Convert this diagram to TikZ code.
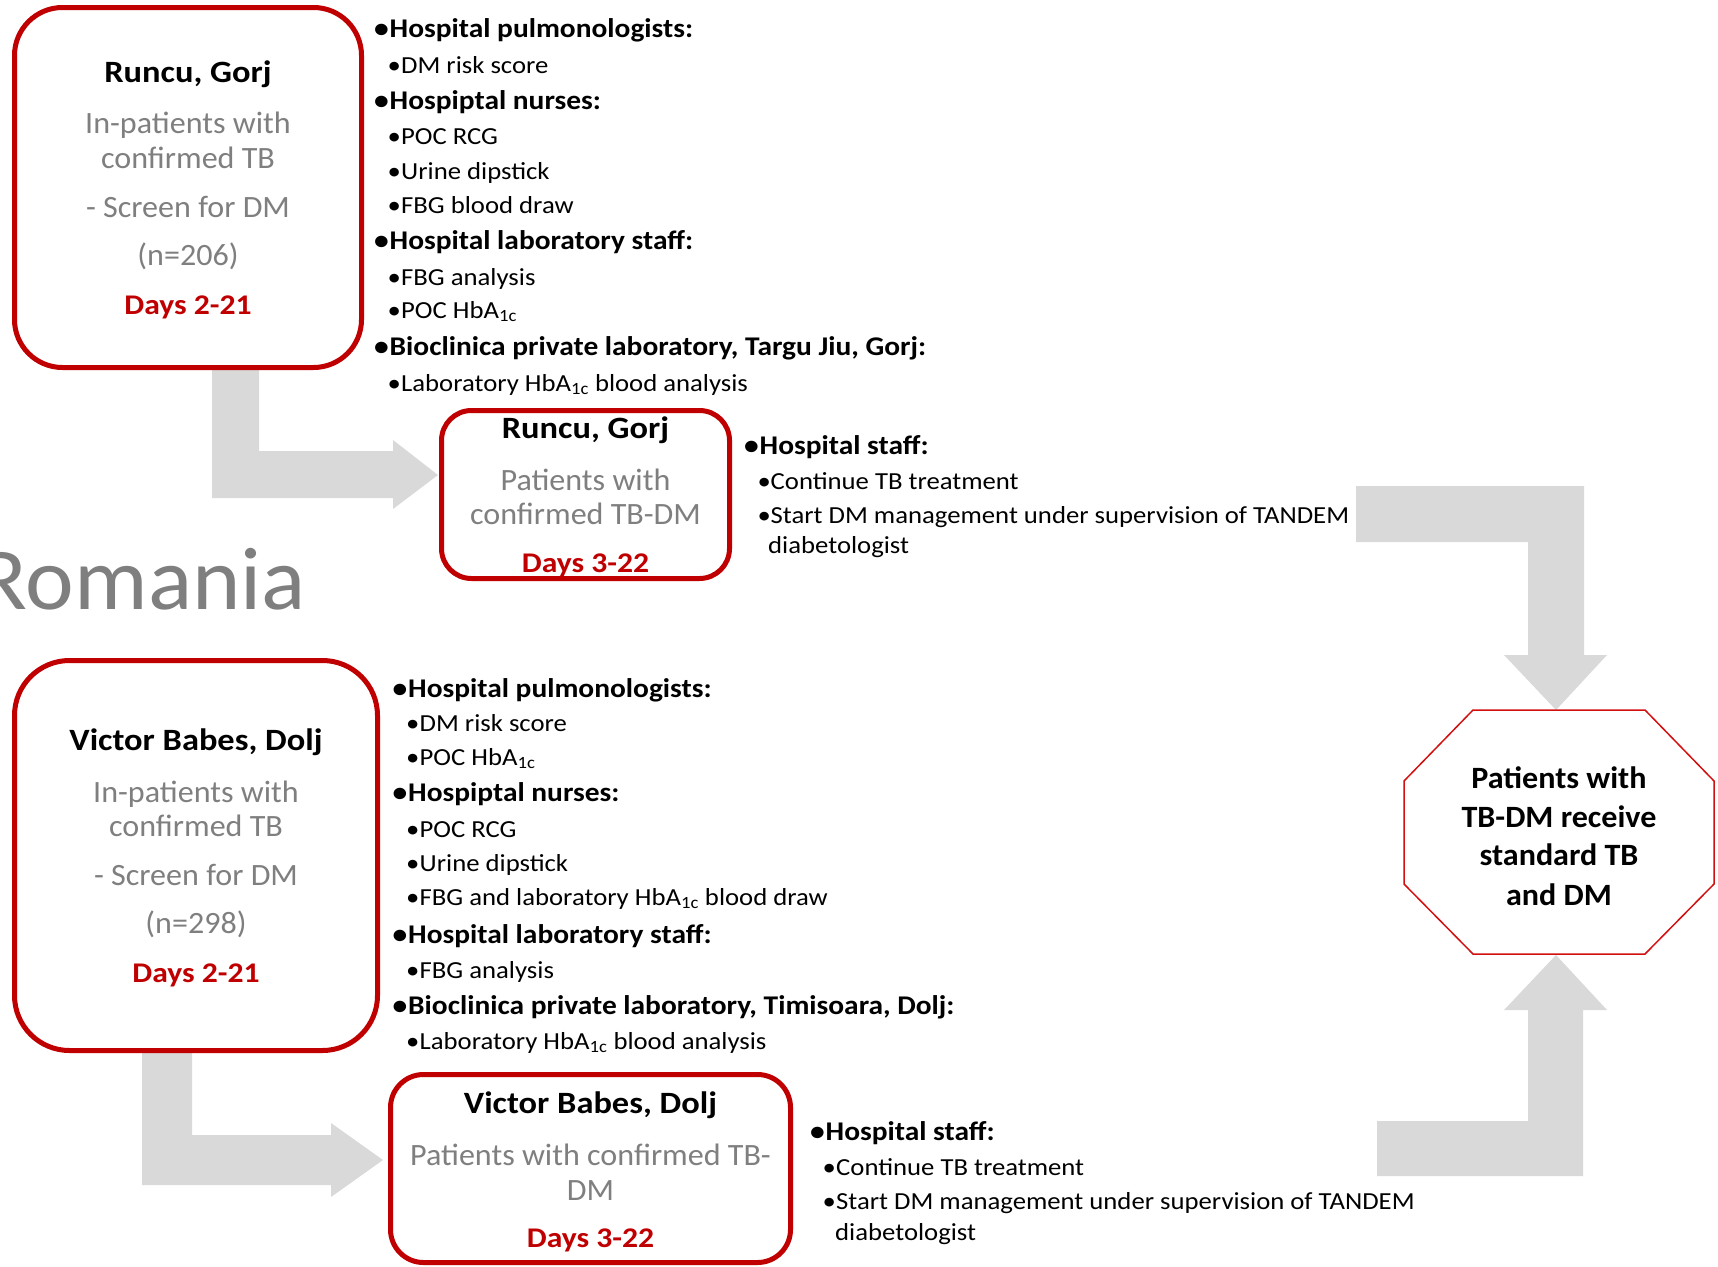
\documentclass[tikz,border=0pt]{standalone}
\usepackage{fontspec}
\setmainfont{Carlito}
\newfontfamily\listfont{Carlito}[FakeStretch=1.09]
\newfontfamily\titlefont{Carlito}[FakeStretch=1.11]
\newfontfamily\greyfont{Carlito}[FakeStretch=1.035]
\definecolor{tandemred}{RGB}{192,0,0}
\definecolor{octred}{RGB}{210,16,16}
\definecolor{txtgray}{RGB}{127,127,127}
\definecolor{arrowgray}{RGB}{217,217,217}
\newcommand{\fs}[1]{\fontsize{#1}{#1}\selectfont}
\newcommand{\hba}{HbA\textsubscript{1c}}
\newcommand{\bul}[1][15.5pt]{\makebox[#1][l]{\textbullet}}
\tikzset{
  screenbox/.style={draw=tandemred,fill=white,line width=5pt,inner sep=0pt},
  carebox/.style={draw=tandemred,fill=white,line width=5pt,inner sep=0pt},
  title/.style={anchor=base,inner sep=0pt,font=\titlefont\fs{31}\bfseries},
  grey/.style={anchor=base,inner sep=0pt,font=\greyfont\fs{31},text=txtgray},
  days/.style={anchor=base,inner sep=0pt,font=\titlefont\fs{28.5}\bfseries,text=tandemred},
  octtext/.style={anchor=base,inner sep=0pt,font=\greyfont\fs{31}\bfseries},
  head/.style={anchor=base west,inner sep=0pt,font=\listfont\fs{27}\bfseries},
  item/.style={anchor=base west,inner sep=0pt,font=\listfont\fs{24.5}},
  blockarrow/.style={fill=arrowgray},
}
\begin{document}
\begin{tikzpicture}[x=1pt,y=-1pt]
\useasboundingbox (0,0) rectangle (1718,1266);
% block arrows
\fill[blockarrow] (212,365) -- (259,365) -- (259,451) -- (393,451) -- (393,440) -- (438,475)
  -- (393,509) -- (393,498) -- (212,498) -- cycle;
\fill[blockarrow] (142,1048) -- (192,1048) -- (192,1135) -- (331,1135) -- (331,1123) -- (383,1160)
  -- (331,1197) -- (331,1185) -- (142,1185) -- cycle;
\fill[blockarrow] (1356,486) -- (1584,486) -- (1584,655) -- (1607,655) -- (1556,710)
  -- (1504,655) -- (1528,655) -- (1528,542) -- (1356,542) -- cycle;
\fill[blockarrow] (1377,1176) -- (1583,1176) -- (1583,1010) -- (1607,1010) -- (1556,955)
  -- (1504,1010) -- (1528,1010) -- (1528,1121) -- (1377,1121) -- cycle;
% boxes
\node[screenbox,rounded corners=48pt,minimum width=347pt,minimum height=360pt] (runcuScreen) at (188,187.5) {};
\node[screenbox,rounded corners=55pt,minimum width=363pt,minimum height=390pt] (victorScreen) at (196,855.5) {};
\node[carebox,rounded corners=30pt,minimum width=288pt,minimum height=168pt] (runcuCare) at (585.5,494.5) {};
\node[carebox,rounded corners=33pt,minimum width=400pt,minimum height=188pt] (victorCare) at (590.5,1168.5) {};
\node[inner sep=0pt,minimum width=310pt,minimum height=244pt] (standardCare) at (1560,832) {};
\draw[octred,line width=1.5pt] (1473,710) -- (1645,710) -- (1714,781) -- (1714,884) -- (1645,954)
  -- (1473,954) -- (1404,884) -- (1404,781) -- cycle;
% box texts
\node[title] (runcuScreenTitle) at (188,82) {Runcu, Gorj};
\foreach \y/\t in {133/In-patients with, 168/confirmed TB, 217/- Screen for DM, 265/(n=206)}
  \node[grey] (runcuScreen\y) at (188,\y) {\t};
\node[days] (runcuScreenDays) at (188,314) {Days 2-21};
\node[title] (victorScreenTitle) at (196,750) {Victor Babes, Dolj};
\foreach \y/\t in {802/In-patients with, 836/confirmed TB, 885/- Screen for DM, 933/(n=298)}
  \node[grey] (victorScreen\y) at (196,\y) {\t};
\node[days] (victorScreenDays) at (196,982) {Days 2-21};
\node[title] (runcuCareTitle) at (585.5,438) {Runcu, Gorj};
\foreach \y/\t in {490/Patients with, 524/confirmed TB-DM}
  \node[grey] (runcuCare\y) at (585.5,\y) {\t};
\node[days] (runcuCareDays) at (585.5,572) {Days 3-22};
\node[title] (victorCareTitle) at (590.5,1113) {Victor Babes, Dolj};
\foreach \y/\t in {1165/Patients with confirmed TB-, 1200/DM}
  \node[grey] (victorCare\y) at (590.5,\y) {\t};
\node[days] (victorCareDays) at (590.5,1247) {Days 3-22};
\foreach \y/\t in {788/Patients with, 827/TB-DM receive, 865/standard TB, 905/and DM}
  \node[octtext] (standardCare\y) at (1559,\y) {\t};
\node[anchor=base east,inner sep=0pt,font=\greyfont\fs{89},text=txtgray] (country) at (306,609) {Romania};
% task lists
\foreach \y/\t in {37/Hospital pulmonologists:, 109/Hospiptal nurses:, 249/Hospital laboratory staff:,
    355/{Bioclinica private laboratory, Targu Jiu, Gorj:}}
  \node[head] (runcuHead\y) at (374,\y) {\bul\t};
\foreach \y/\t in {73/DM risk score, 144/POC RCG, 179/Urine dipstick, 213/FBG blood draw,
    285/FBG analysis, 318/POC \hba, 391/Laboratory \hba{} blood analysis}
  \node[item] (runcuItem\y) at (387.5,\y) {\bul[13.5pt]\t};
\foreach \y/\t in {697/Hospital pulmonologists:, 801/Hospiptal nurses:, 943/Hospital laboratory staff:,
    1014/{Bioclinica private laboratory, Timisoara, Dolj:}}
  \node[head] (victorHead\y) at (392.5,\y) {\bul\t};
\foreach \y/\t in {731/DM risk score, 765/POC \hba, 837/POC RCG, 871/Urine dipstick,
    905/FBG and laboratory \hba{} blood draw, 978/FBG analysis, 1049/Laboratory \hba{} blood analysis}
  \node[item] (victorItem\y) at (406,\y) {\bul[13.5pt]\t};
\node[head] (runcuStaff) at (744,454) {\bul Hospital staff:};
\node[item] (runcuCont) at (757.5,489) {\bul[13pt]Continue TB treatment};
\node[item] (runcuStart) at (757.5,523) {\bul[13pt]Start DM management under supervision of TANDEM};
\node[item] (runcuWrap) at (768,553) {diabetologist};
\node[head] (victorStaff) at (810,1140) {\bul Hospital staff:};
\node[item] (victorCont) at (822.5,1175) {\bul[13.5pt]Continue TB treatment};
\node[item] (victorStart) at (822.5,1209) {\bul[13.5pt]Start DM management under supervision of TANDEM};
\node[item] (victorWrap) at (835,1240) {diabetologist};
\end{tikzpicture}
\end{document}
